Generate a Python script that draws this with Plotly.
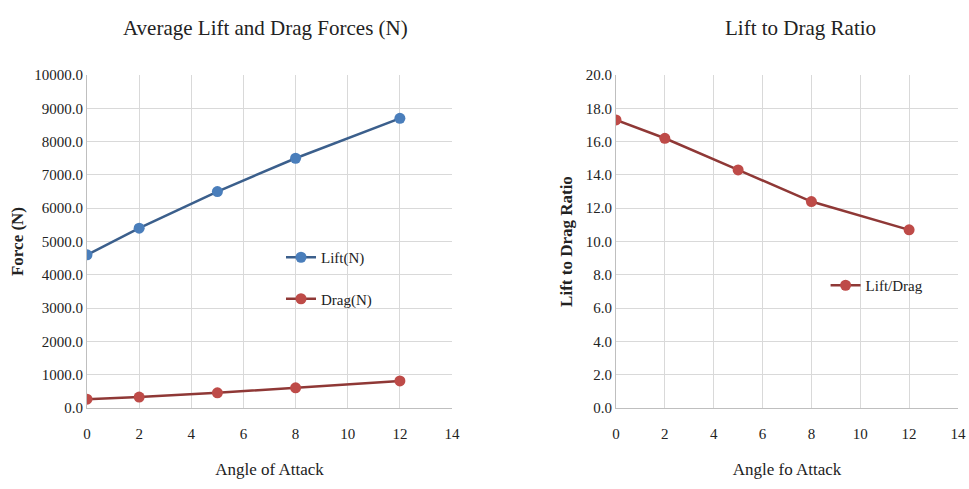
import plotly.graph_objects as go

angles = [0, 2, 5, 8, 12]
lift_n = [4600, 5400, 6500, 7500, 8700]
drag_n = [265, 330, 455, 605, 815]
lift_to_drag = [17.3, 16.2, 14.3, 12.4, 10.7]

force_ticks = [i * 1000 for i in range(11)]
ratio_ticks = [i * 2 for i in range(11)]
x_ticks = [0, 2, 4, 6, 8, 10, 12, 14]

blue = "#4A7EBB"
blue_line = "#3B5F8C"
red = "#BE4B48"
red_line = "#8F3836"
font_family = "Liberation Serif"

fig = go.Figure()
fig.add_trace(go.Scatter(x=angles, y=lift_n, name="Lift(N)", mode="lines+markers",
                         line=dict(color=blue_line, width=2.5),
                         marker=dict(color=blue, size=11),
                         legendgroup="a",
                         xaxis="x", yaxis="y", legend="legend"))
fig.add_trace(go.Scatter(x=angles, y=drag_n, name="Drag(N)", mode="lines+markers",
                         line=dict(color=red_line, width=2.5),
                         marker=dict(color=red, size=11),
                         legendgroup="b",
                         xaxis="x", yaxis="y", legend="legend"))
fig.add_trace(go.Scatter(x=angles, y=lift_to_drag, name="Lift/Drag", mode="lines+markers",
                         line=dict(color=red_line, width=2.5),
                         marker=dict(color=red, size=11),
                         xaxis="x2", yaxis="y2", legend="legend2"))

def axis_common():
    return dict(showgrid=True, gridcolor="#D9D9D9", gridwidth=1,
                showline=True, linecolor="#BFBFBF", linewidth=1,
                zeroline=False, ticks="", automargin=False,
                tickfont=dict(family=font_family, size=15, color="#222"))

fig.update_layout(
    width=969, height=489,
    margin=dict(l=0, r=0, t=0, b=0),
    paper_bgcolor="white", plot_bgcolor="white",
    font=dict(family=font_family, color="#222"),
    xaxis=dict(domain=[0.0898, 0.4665], range=[0, 14], tickvals=x_ticks,
               ticklabelstandoff=12,
               title=dict(text="Angle of Attack", font=dict(size=17, family=font_family), standoff=22),
               anchor="y", **axis_common()),
    yaxis=dict(domain=[0.1656, 0.8466], range=[0, 10000], tickvals=force_ticks,
               ticktext=[f"{v:.1f}" for v in force_ticks],
               title=dict(text="<b>Force (N)</b>", font=dict(size=17, family=font_family), standoff=6),
               anchor="x", **axis_common()),
    xaxis2=dict(domain=[0.6357, 0.9886], range=[0, 14], tickvals=x_ticks,
                ticklabelstandoff=12,
                title=dict(text="Angle fo Attack", font=dict(size=17, family=font_family), standoff=22),
                anchor="y2", **axis_common()),
    yaxis2=dict(domain=[0.1656, 0.8466], range=[0, 20], tickvals=ratio_ticks,
                ticktext=[f"{v:.1f}" for v in ratio_ticks],
                title=dict(text="<b>Lift to Drag Ratio</b>", font=dict(size=17, family=font_family), standoff=8),
                anchor="x2", **axis_common()),
    legend=dict(x=0.29, y=1 - 241 / 489, xanchor="left", yanchor="top",
                bgcolor="rgba(255,255,255,0)", font=dict(size=15, family=font_family),
                tracegroupgap=19, itemwidth=30),
    legend2=dict(x=0.852, y=1 - 269 / 489, xanchor="left", yanchor="top",
                 bgcolor="rgba(255,255,255,0)", font=dict(size=15, family=font_family),
                 itemwidth=30),
    annotations=[
        dict(text="Average Lift and Drag Forces (N)", x=265 / 969, y=1 - 28 / 489,
             xref="paper", yref="paper", showarrow=False, xanchor="center", yanchor="middle",
             font=dict(size=21, family=font_family, color="#222")),
        dict(text="Lift to Drag Ratio", x=800 / 969, y=1 - 28 / 489,
             xref="paper", yref="paper", showarrow=False, xanchor="center", yanchor="middle",
             font=dict(size=21, family=font_family, color="#222")),
    ],
)

fig.write_html("out.html")
